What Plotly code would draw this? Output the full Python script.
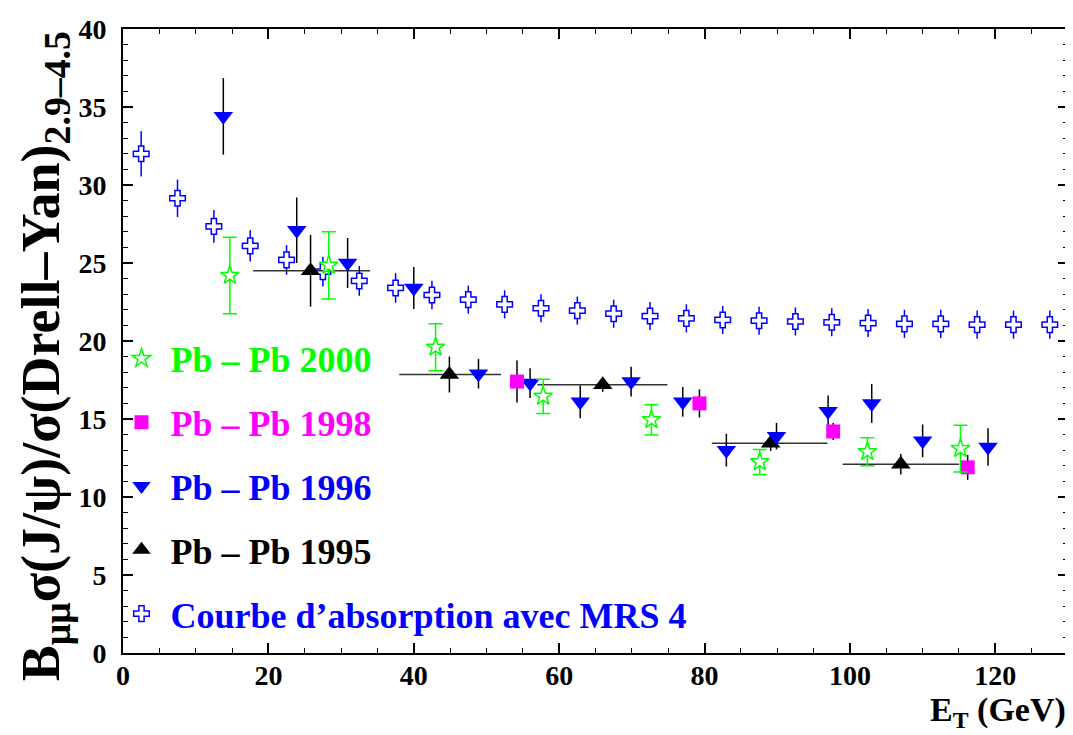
import plotly.graph_objects as go

# ---------------- data ----------------
# Courbe d'absorption avec MRS 4
et_mrs = [2.5, 7.5, 12.5, 17.5, 22.5, 27.5, 32.5, 37.5, 42.5, 47.5, 52.5, 57.5, 62.5,
          67.5, 72.5, 77.5, 82.5, 87.5, 92.5, 97.5, 102.5, 107.5, 112.5, 117.5, 122.5, 127.5]
r_mrs = [32.0, 29.15, 27.35, 26.1, 25.2, 24.45, 23.85, 23.4, 22.95, 22.65, 22.35, 22.1, 21.95,
         21.75, 21.6, 21.45, 21.35, 21.3, 21.25, 21.2, 21.15, 21.1, 21.1, 21.05, 21.05, 21.05]
e_mrs = [1.45, 1.2, 1.05, 1.0, 0.95, 0.95, 0.95, 0.95, 0.92, 0.9, 0.9, 0.9, 0.9,
         0.9, 0.9, 0.9, 0.9, 0.9, 0.9, 0.9, 0.9, 0.9, 0.9, 0.9, 0.9, 0.9]

# Pb - Pb 1996
et_96 = [13.8, 23.9, 30.9, 40.0, 48.9, 56.0, 62.9, 69.9, 77.0, 83.0, 89.9, 97.0, 103.0, 110.0, 119.0]
r_96 = [34.4, 27.1, 25.0, 23.4, 17.9, 17.3, 16.1, 17.4, 16.1, 13.0, 13.9, 15.5, 16.0, 13.6, 13.2]
e_96 = [2.45, 2.1, 1.6, 1.35, 0.95, 0.95, 1.05, 0.95, 0.95, 1.05, 0.85, 1.0, 1.25, 1.05, 1.2]

# Pb - Pb 1995
et_95 = [25.8, 44.9, 66.0, 89.1, 107.0]
r_95 = [24.5, 17.85, 17.2, 13.45, 12.1]
e_95 = [2.3, 1.15, 0.45, 0.5, 0.65]
et_95_lo = [17.9, 38.0, 57.0, 81.0, 99.0]
et_95_hi = [34.0, 52.0, 74.9, 96.9, 115.0]

# Pb - Pb 1998
et_98 = [54.2, 79.3, 97.7, 116.2]
r_98 = [17.4, 16.0, 14.2, 11.9]
e_98 = [1.35, 0.9, 0.55, 0.8]

# Pb - Pb 2000
et_00 = [14.7, 28.3, 43.0, 57.8, 72.7, 87.6, 102.4, 115.2]
r_00 = [24.2, 24.85, 19.6, 16.45, 14.95, 12.25, 12.9, 13.1]
e_00 = [2.45, 2.15, 1.5, 1.1, 0.97, 0.8, 0.9, 1.5]

BLUE = "#0000ff"
GREEN = "#00ff00"
MAGENTA = "#ff00ff"
BLACK = "#000000"
FONT = "Liberation Serif"
NB = "\u00a0"

fig = go.Figure()

fig.add_trace(go.Scatter(
    x=et_mrs, y=r_mrs, mode="markers",
    name=f"{NB}<span style='color:{BLUE}'>Courbe d’absorption avec MRS 4</span>",
    legendgroup="mrs", legendrank=5,
    marker=dict(symbol="cross", size=13, color="white", line=dict(color=BLUE, width=1.5)),
    error_y=dict(type="data", array=e_mrs, color=BLUE, thickness=1.5, width=0),
))

xm = [c - lo for c, lo in zip(et_95, et_95_lo)]
xp = [hi - c for c, hi in zip(et_95, et_95_hi)]
fig.add_trace(go.Scatter(
    x=et_95, y=r_95, mode="markers",
    name=f"{NB}<span style='color:{BLACK}'>Pb – Pb 1995</span>",
    legendgroup="p95", legendrank=4,
    marker=dict(symbol="triangle-up", size=17, color=BLACK),
    error_y=dict(type="data", array=e_95, color=BLACK, thickness=1.5, width=0),
    error_x=dict(type="data", array=xp, arrayminus=xm, color="#333333", thickness=1.5, width=0),
))

fig.add_trace(go.Scatter(
    x=et_96, y=r_96, mode="markers",
    name=f"{NB}<span style='color:{BLUE}'>Pb – Pb 1996</span>",
    legendgroup="p96", legendrank=3,
    marker=dict(symbol="triangle-down", size=17, color=BLUE),
    error_y=dict(type="data", array=e_96, color=BLACK, thickness=1.5, width=0),
))

fig.add_trace(go.Scatter(
    x=et_98, y=r_98, mode="markers",
    name=f"{NB}<span style='color:{MAGENTA}'>Pb – Pb 1998</span>",
    legendgroup="p98", legendrank=2,
    marker=dict(symbol="square", size=14, color=MAGENTA),
    error_y=dict(type="data", array=e_98, color=BLACK, thickness=1.5, width=0),
))

fig.add_trace(go.Scatter(
    x=et_00, y=r_00, mode="markers",
    name=f"{NB}<span style='color:{GREEN}'>Pb – Pb 2000</span>",
    legendgroup="p00", legendrank=1,
    marker=dict(symbol="star", size=14, color="white", line=dict(color=GREEN, width=1.5)),
    error_y=dict(type="data", array=e_00, color=GREEN, thickness=1.5, width=7),
))

axis_common = dict(
    showline=True, linecolor="black", linewidth=2, mirror="allticks",
    ticks="inside", tickcolor="black", tickwidth=1.5, ticklen=10,
    showgrid=False, zeroline=False, automargin=False,
    tickfont=dict(family=FONT, size=28, color="black", weight="bold"),
)

fig.update_xaxes(range=[0, 130], dtick=20, tick0=0,
                 minor=dict(ticks="inside", dtick=5, ticklen=5, tickcolor="black", tickwidth=1.2),
                 ticklabelstandoff=-4, **axis_common)
fig.update_yaxes(range=[0, 40], dtick=5, tick0=0,
                 minor=dict(ticks="inside", dtick=1, ticklen=5, tickcolor="black", tickwidth=1.2),
                 ticklabelstandoff=9, **axis_common)

fig.add_annotation(
    xref="paper", yref="paper", x=-0.083, y=0.475, xanchor="center", yanchor="middle",
    textangle=-90, showarrow=False,
    text="B<sub>μμ</sub>σ(J/ψ)/σ(Drell–Yan)<sub>2.9–4.5</sub>",
    font=dict(family=FONT, size=54, color="black", weight="bold"),
)
fig.add_annotation(
    xref="paper", yref="paper", x=1.0, y=-0.058, xanchor="right", yanchor="top",
    showarrow=False, text="E<sub>T</sub> (GeV)",
    font=dict(family=FONT, size=34, color="black", weight="bold"),
)

fig.update_layout(
    width=1073, height=735,
    margin=dict(l=115, r=13, t=21, b=90),
    plot_bgcolor="white", paper_bgcolor="white",
    showlegend=True,
    legend=dict(x=-0.0016, y=0.52, xanchor="left", yanchor="top",
                bgcolor="rgba(0,0,0,0)", borderwidth=0,
                font=dict(family=FONT, size=36, weight="bold"),
                tracegroupgap=14, itemsizing="trace"),
)

fig.write_html("out.html")
